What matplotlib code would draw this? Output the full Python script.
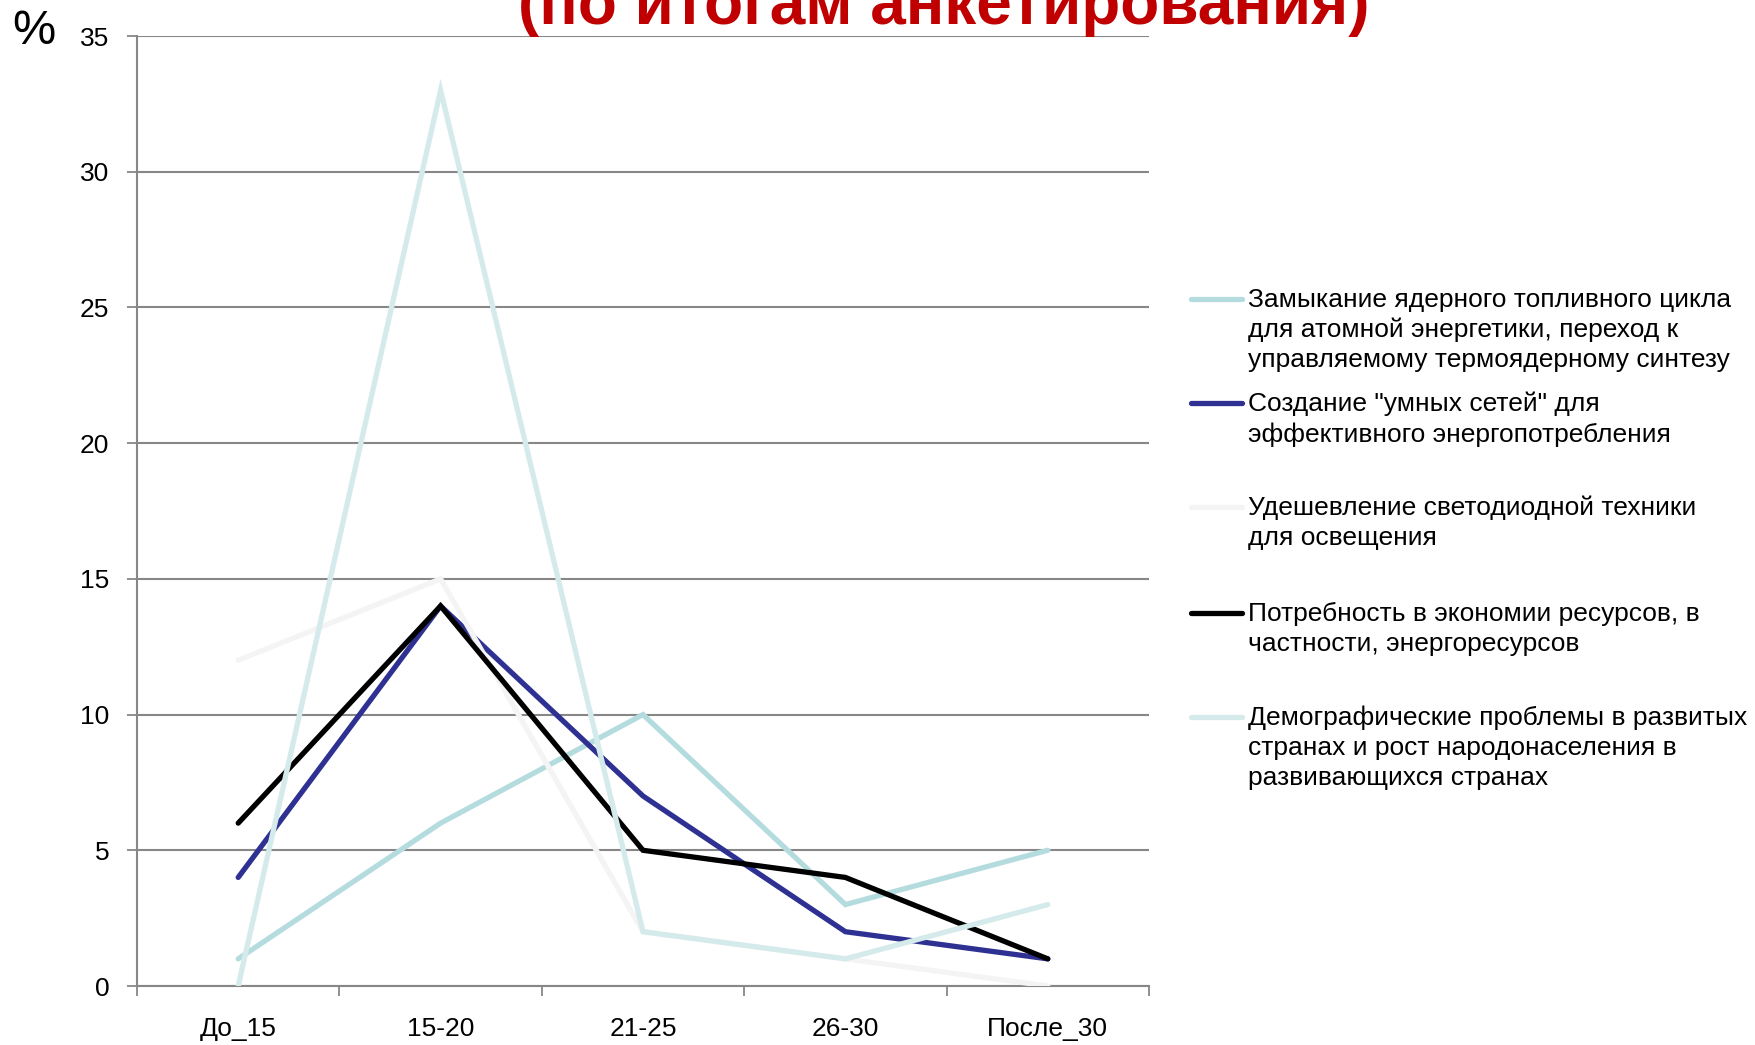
import matplotlib
matplotlib.use("Agg")
import matplotlib.pyplot as plt
from matplotlib.lines import Line2D
from matplotlib.ticker import FixedLocator

plt.rcParams['font.family'] = ['Liberation Sans', 'DejaVu Sans']

categories = ["До_15", "15-20", "21-25", "26-30", "После_30"]

series_labels = [
    "Замыкание ядерного топливного цикла\nдля атомной энергетики, переход к\nуправляемому термоядерному синтезу",
    "Создание \"умных сетей\" для\nэффективного энергопотребления",
    "Удешевление светодиодной техники\nдля освещения",
    "Потребность в экономии ресурсов, в\nчастности, энергоресурсов",
    "Демографические проблемы в развитых\nстранах и рост народонаселения в\nразвивающихся странах",
]

nuclear = [1, 6, 10, 3, 5]
smart_grid = [4, 14, 7, 2, 1]
led = [12, 15, 2, 1, 0]
savings = [6, 14, 5, 4, 1]
demography = [0, 33, 2, 1, 3]

series_values = [nuclear, smart_grid, led, savings, demography]
series_colors = ["#B4DCDF", "#2E3192", "#F4F4F4", "#000000", "#D4EAEB"]

y_ticks = [0, 5, 10, 15, 20, 25, 30, 35]

W, H = 1756, 1045
fig = plt.figure(figsize=(W / 100, H / 100), dpi=100)
ax = fig.add_axes([137 / W, 1 - 986 / H, (1149 - 137) / W, (986 - 36) / H])

x = list(range(len(categories)))
for vals, col in zip(series_values, series_colors):
    ax.plot(x, vals, color=col, lw=3.8, solid_joinstyle='miter',
            solid_capstyle='round', zorder=3)

ax.set_xlim(-0.5, len(categories) - 0.5)
ax.set_ylim(0, 35)
ax.set_yticks(y_ticks)
ax.set_yticklabels([str(v) for v in y_ticks], fontsize=19)
ax.yaxis.grid(True, color="#878787", lw=1.5, zorder=1)
ax.set_axisbelow(True)

ax.set_xticks(x)
ax.set_xticklabels(categories, fontsize=19)
ax.tick_params(axis='x', which='major', length=0, pad=22)
ax.xaxis.set_minor_locator(FixedLocator([i - 0.5 for i in range(len(categories) + 1)]))
ax.tick_params(axis='x', which='minor', length=7, width=1.3, color="#878787", direction='out')
ax.tick_params(axis='y', length=7, width=1.3, color="#878787", pad=13)

for side in ("top", "right"):
    ax.spines[side].set_visible(False)
for side in ("left", "bottom"):
    ax.spines[side].set_color("#878787")
    ax.spines[side].set_linewidth(1.5)

# Title (second line of the slide heading)
fig.text(944 / W, 1 - 24 / H, "(по итогам анкетирования)", color="#C00000",
         fontsize=46, fontweight='bold', ha='center', va='baseline')

# Unit label
fig.text(34 / W, 1 - 32 / H, "%", fontsize=35, ha='center', va='center')

# Legend drawn beside the plot, line aligned with the first text line
legend_y = [299, 403, 507, 613, 717]
for label, col, yy in zip(series_labels, series_colors, legend_y):
    fy = 1 - yy / H
    fig.add_artist(Line2D([1191 / W, 1242 / W], [fy, fy], color=col, lw=3.8,
                          solid_capstyle='round', transform=fig.transFigure))
    fig.text(1248 / W, fy + 11 / H, label, fontsize=19, ha='left', va='top',
             linespacing=1.3)

fig.savefig("out.png", dpi=100)
